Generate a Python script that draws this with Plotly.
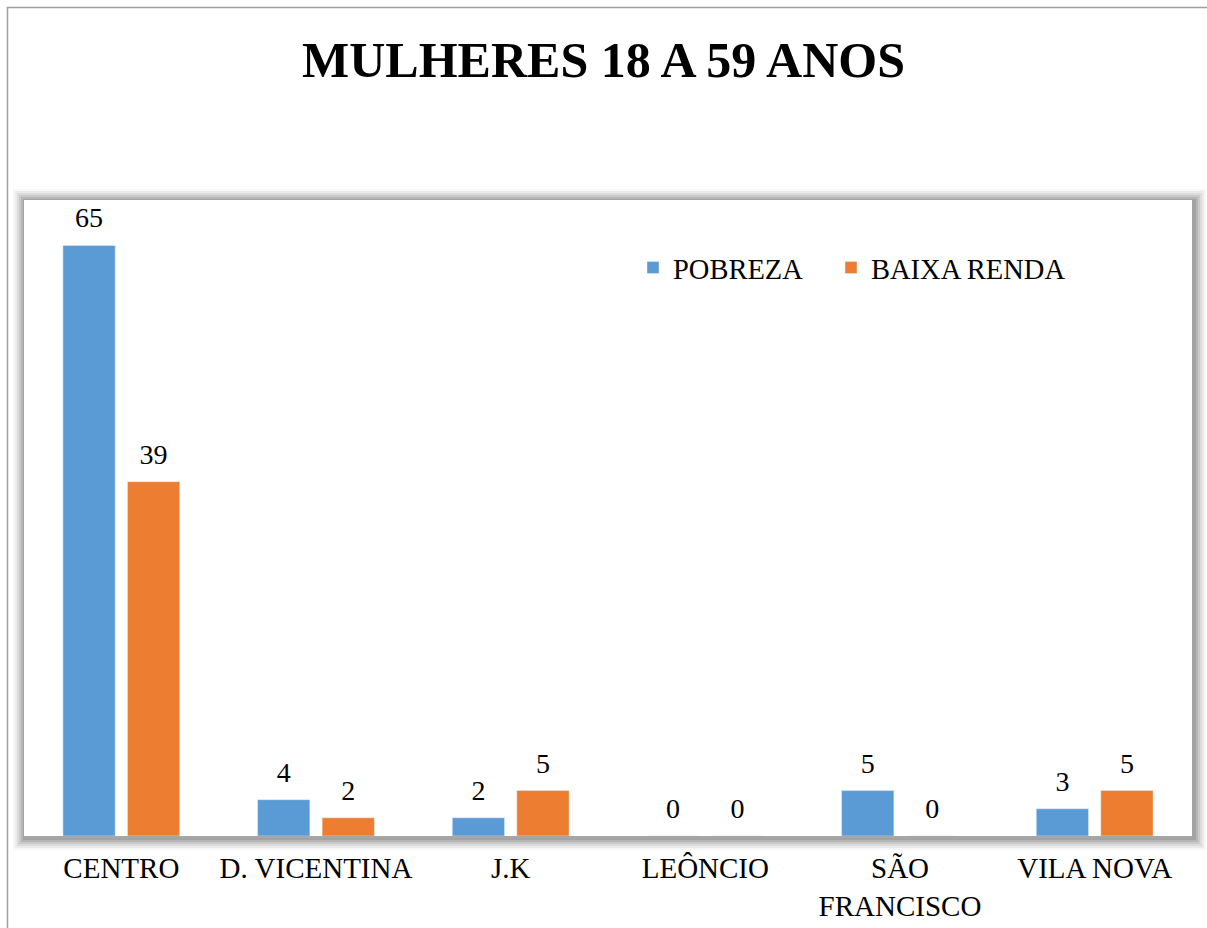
import plotly.graph_objects as go

categories = ["CENTRO", "D. VICENTINA", "J.K", "LEÔNCIO", "SÃO<br>FRANCISCO", "VILA NOVA"]
pobreza = [65, 4, 2, 0, 5, 3]
baixa_renda = [39, 2, 5, 0, 0, 5]

FONT = "Liberation Serif, Times New Roman, serif"
W, H = 1207, 928
ML, MR, MT, MB = 24, 15, 200, 92
PW, PH = W - ML - MR, H - MT - MB

fig = go.Figure()
fig.add_trace(go.Bar(name="POBREZA", x=categories, y=pobreza, marker_color="#5B9BD5",
                     offsetgroup="a", legend="legend"))
fig.add_trace(go.Bar(name="BAIXA RENDA", x=categories, y=baixa_renda, marker_color="#ED7D31",
                     offsetgroup="b", legend="legend2"))
# data labels
for vals, og in [(pobreza, "a"), (baixa_renda, "b")]:
    fig.add_trace(go.Scatter(x=categories, y=vals, mode="markers+text", text=vals,
                             textposition="top center", offsetgroup=og,
                             marker=dict(size=16, opacity=0), showlegend=False,
                             hoverinfo="skip", cliponaxis=False,
                             textfont=dict(size=28, color="#000000", family=FONT)))


def px(x):
    return (x - ML) / PW


def py(y):
    return (H - MB - y) / PH


shapes = []
for pad, op in [(12, 0.06), (10, 0.09), (8, 0.13), (6, 0.18), (4, 0.24), (2, 0.3)]:
    shapes.append(dict(type="rect", xref="paper", yref="paper", layer="below",
                       x0=px(ML - pad + 1), x1=px(ML + PW + pad + 2),
                       y0=py(MT + PH + pad + 2), y1=py(MT - pad + 1),
                       line=dict(width=0), fillcolor=f"rgba(120,120,120,{op})"))
shapes.append(dict(type="rect", xref="paper", yref="paper", layer="below",
                   x0=0, x1=1, y0=0, y1=1, line=dict(width=0), fillcolor="white"))
# outer chart border
shapes.append(dict(type="rect", xref="paper", yref="paper", layer="below",
                   x0=px(7.5), x1=px(W + 10), y0=py(H + 10), y1=py(7.5),
                   line=dict(width=1.5, color="#A0A0A0"), fillcolor="rgba(0,0,0,0)"))

legend_common = dict(orientation="h", y=py(268), xanchor="left", yanchor="middle",
                     font=dict(size=28.5, family=FONT, color="#000000"),
                     bgcolor="rgba(0,0,0,0)", itemwidth=30)

fig.update_layout(
    width=W, height=H,
    margin=dict(l=ML, r=MR, t=MT, b=MB, autoexpand=False),
    paper_bgcolor="white", plot_bgcolor="white",
    title=dict(text="<b>MULHERES 18 A 59 ANOS</b>", x=0.5, xanchor="center",
               y=1 - 59 / H, yanchor="middle",
               font=dict(size=50, family=FONT, color="#000000")),
    barmode="group", bargap=0.337, bargroupgap=0.19,
    scattermode="group", scattergap=0.337,
    showlegend=True,
    legend=dict(x=px(633), **legend_common),
    legend2=dict(x=px(831), **legend_common),
    xaxis=dict(showgrid=False, showline=True, linecolor="#A6A6A6", linewidth=2,
               automargin=False,
               ticks="outside", ticklen=5, tickcolor="rgba(0,0,0,0)",
               tickfont=dict(size=29, family=FONT, color="#000000")),
    yaxis=dict(range=[0, 70], visible=False, showgrid=False, automargin=False),
    shapes=shapes,
)

fig.write_html("out.html", config={"displayModeBar": False},
               post_script="document.body.style.margin='0';")
